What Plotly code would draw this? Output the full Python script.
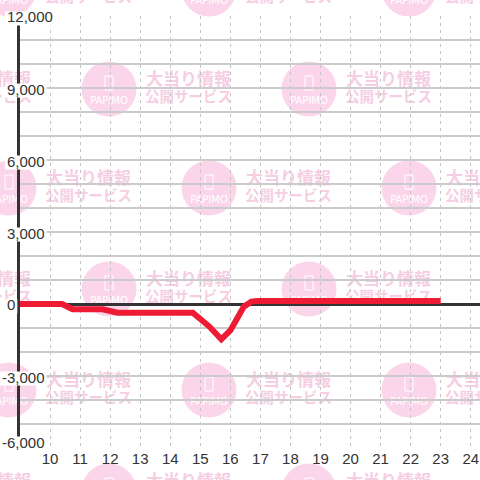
import plotly.graph_objects as go

# ---- data ----
hours = [9.0, 10.4, 10.75, 11.75, 12.25, 14.75, 15.3, 15.7, 16.0, 16.25, 16.45, 16.7, 16.9, 23.0]
values = [0, 0, -220, -220, -360, -360, -940, -1470, -1100, -530, -110, 100, 125, 125]

x_ticks = list(range(10, 25))
y_ticks = list(range(-6000, 12001, 1000))
y_labels = [12000, 9000, 6000, 3000, 0, -3000, -6000]

# ---- layout geometry ----
W, H = 480, 480
L, T, B = 20, 16, 32
PLOT_BOTTOM = H - B


def px(x):
    return (x - L) / (W - L)


def py(y):
    return (PLOT_BOTTOM - y) / (PLOT_BOTTOM - T)


fig = go.Figure()
fig.add_trace(go.Scatter(
    x=hours, y=values, mode="lines",
    line=dict(color="#ed1b34", width=6),
    hoverinfo="skip", showlegend=False,
))

shapes = []
annotations = []

# ---- watermark (background) ----
CIRCLE = "#fbd6eb"
WTEXT = "#f6cee3"
rows_y = [-11, 89, 188, 289, 390, 491]
for i, cy in enumerate(rows_y):
    xs = [9, 209, 409] if i % 2 == 0 else [-91, 109, 309]
    for cx in xs:
        r = 27.5
        shapes.append(dict(type="circle", xref="paper", yref="paper", layer="below",
                           x0=px(cx - r), x1=px(cx + r), y0=py(cy + r), y1=py(cy - r),
                           fillcolor=CIRCLE, line=dict(width=0)))
        shapes.append(dict(type="rect", xref="paper", yref="paper", layer="below",
                           x0=px(cx - 4), x1=px(cx + 4), y0=py(cy + 1), y1=py(cy - 13),
                           fillcolor="rgba(0,0,0,0)", line=dict(color="white", width=1)))
        shapes.append(dict(type="rect", xref="paper", yref="paper", layer="below",
                           x0=px(cx - 30), x1=px(cx + 30), y0=py(cy + 16), y1=py(cy + 4),
                           fillcolor="rgba(0,0,0,0)", line=dict(width=0),
                           label=dict(text="PAPIMO", textposition="middle center",
                                      font=dict(family="DejaVu Sans", size=10, color="white"))))
        for txt, dy, size in [("大当り情報", -8.5, 17), ("公開サービス", 9, 14.5)]:
            tx = cx + 79.5
            shapes.append(dict(type="rect", xref="paper", yref="paper", layer="below",
                               x0=px(tx - 50), x1=px(tx + 50), y0=py(cy + dy + 9), y1=py(cy + dy - 9),
                               fillcolor="rgba(0,0,0,0)", line=dict(width=0),
                               label=dict(text=txt, textposition="middle center",
                                          font=dict(family="Noto Sans CJK JP", size=size,
                                                    color=WTEXT, weight="bold"))))

# ---- y tick labels with white background boxes ----
FS = 15
cw = {",": 0.278, "-": 0.333}
for v in y_labels:
    txt = f"{v:,}"
    width = sum(cw.get(c, 0.556) for c in txt) * FS
    left = 2 if v < 0 else 7
    center = PLOT_BOTTOM - (v - (-6000)) * (PLOT_BOTTOM - T) / 18000 + 1
    center = min(center, 442)
    shapes.append(dict(type="rect", xref="paper", yref="paper", layer="above",
                       x0=px(left - 2), x1=px(left + width + 2),
                       y0=py(center + 8.5), y1=py(center - 5.5),
                       fillcolor="white", line=dict(width=0)))
    annotations.append(dict(text=txt, xref="paper", yref="paper", x=px(left), y=py(center),
                            xanchor="left", yanchor="middle", showarrow=False,
                            borderpad=0, borderwidth=0,
                            font=dict(family="Liberation Sans", size=FS, color="#333")))

fig.update_layout(
    width=W, height=H,
    margin=dict(l=L, r=0, t=T, b=B, autoexpand=False),
    paper_bgcolor="white", plot_bgcolor="white",
    showlegend=False,
    shapes=shapes, annotations=annotations,
    xaxis=dict(range=[9, 9 + (W - L) / 30.05], tickvals=x_ticks, ticktext=[str(t) for t in x_ticks],
               showgrid=True, gridcolor="#c4c4c4", griddash="3px,4px", gridwidth=1,
               zeroline=False, showline=False, ticks="",
               tickfont=dict(family="Liberation Sans", size=FS, color="#333"),
               automargin=False, fixedrange=True),
    yaxis=dict(range=[-6000, 12000], tickvals=y_ticks, showticklabels=False,
               showgrid=True, gridcolor="#cbcbcb", gridwidth=1.5,
               zeroline=True, zerolinecolor="#333", zerolinewidth=3,
               showline=True, linecolor="#333", linewidth=3, ticks="",
               automargin=False, fixedrange=True),
)

fig.write_html("out.html", config={"staticPlot": True},
               post_script="document.body.style.margin='0';")
